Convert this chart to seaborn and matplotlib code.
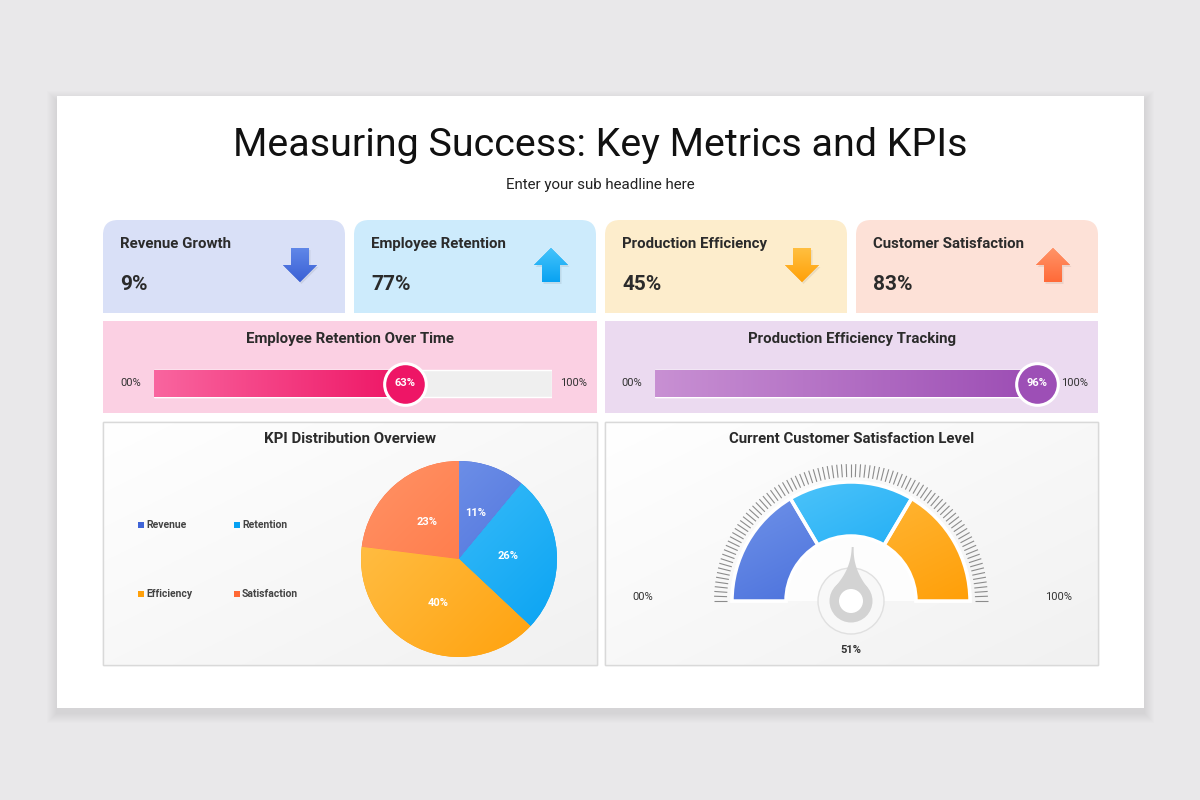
import numpy as np
import matplotlib
matplotlib.use("Agg")
import matplotlib.pyplot as plt
import seaborn as sns
from matplotlib.patches import Rectangle, FancyBboxPatch, Polygon, Wedge, Circle
from matplotlib.collections import LineCollection
from matplotlib.colors import LinearSegmentedColormap

sns.set_theme(style="white")
plt.rcParams['font.family'] = ['Roboto', 'DejaVu Sans']

# ---- data ----
title = "Measuring Success: Key Metrics and KPIs"
subtitle = "Enter your sub headline here"

kpi_names = ["Revenue Growth", "Employee Retention", "Production Efficiency", "Customer Satisfaction"]
kpi_values = [9, 77, 45, 83]
kpi_trend = ["down", "up", "down", "up"]

progress_titles = ["Employee Retention Over Time", "Production Efficiency Tracking"]
progress_values = [63, 96]

pie_title = "KPI Distribution Overview"
pie_labels = ["Revenue", "Retention", "Efficiency", "Satisfaction"]
pie_values = [11, 26, 40, 23]

gauge_title = "Current Customer Satisfaction Level"
gauge_bands = [33, 34, 33]
gauge_value = 51

# ---- colours ----
card_bg = ["#d9e0f7", "#cdebfc", "#fdedcc", "#fde1d7"]
arrow_cols = [("#6087e8", "#3a60d5"), ("#45c4fb", "#08a2f2"),
              ("#ffbf40", "#ffa108"), ("#ff9468", "#ff6a38")]
progress_bg = ["#fbd0e3", "#ebdaf0"]
progress_cols = [("#f9659f", "#ee1565"), ("#c890d3", "#9c4db4")]
progress_dot = ["#ee1566", "#9d4fb6"]
pie_cols = [("#7b9cec", "#3f64d7"), ("#4cc6fb", "#06a1f2"),
            ("#ffc451", "#ffa00a"), ("#ff9366", "#ff6935")]
gauge_cols = [("#7396ea", "#3a61d6"), ("#56c8fb", "#09a2f2"), ("#ffc24e", "#ff9f08")]
text_dark = "#2b2b2b"


def grad_fill(ax, patch, c1, c2, extent, mode="h"):
    cmap = LinearSegmentedColormap.from_list("g", [c1, c2])
    n = 200
    if mode == "h":
        arr = np.tile(np.linspace(0, 1, n), (2, 1))
    elif mode == "v":
        arr = np.tile(np.linspace(0, 1, n)[:, None], (1, 2))
    else:
        xx, yy = np.meshgrid(np.linspace(0, 1, n), np.linspace(0, 1, n))
        arr = (xx + yy) / 2
    im = ax.imshow(arr, cmap=cmap, extent=extent, origin="lower", aspect="auto",
                   interpolation="bilinear", zorder=patch.get_zorder() + 0.01)
    im.set_clip_path(patch)
    return im


fig = plt.figure(figsize=(12, 8), dpi=100)
fig.patch.set_facecolor("#e9e8ea")

# background axes in pixel coordinates (y downward)
bg = fig.add_axes([0, 0, 1, 1])
bg.axis("off")

# white slide with a soft shadow
for k in range(1, 11):
    bg.add_patch(Rectangle((57 - k, 96 - k + 5), 1087 + 2 * k, 612 + 2 * k,
                           color="black", alpha=0.007, lw=0, zorder=0))
bg.add_patch(Rectangle((57, 96), 1087, 612, color="white", lw=0, zorder=1))

bg.text(600, 145, title, ha="center", va="center", fontsize=28.4, color="#111111", zorder=5)
bg.text(600, 185, subtitle, ha="center", va="center", fontsize=10.9, color="#222222", zorder=5)

# KPI cards
card_x = [103, 354, 605, 856]
for i, name in enumerate(kpi_names):
    x0 = card_x[i]
    bg.add_patch(FancyBboxPatch((x0, 220), 242, 93, boxstyle="round,pad=0,rounding_size=15",
                                fc=card_bg[i], ec="none", zorder=2))
    bg.add_patch(Rectangle((x0, 290), 242, 23, fc=card_bg[i], ec="none", zorder=2))
    bg.text(x0 + 17, 244, name, ha="left", va="center", fontsize=10.8,
            fontweight="bold", color=text_dark, zorder=5)
    bg.text(x0 + 17, 284, f"{kpi_values[i]}%", ha="left", va="center", fontsize=15,
            fontweight="bold", color=text_dark, zorder=5)
    cx = x0 + 197
    if kpi_trend[i] == "down":
        pts = [(cx - 9, 248), (cx + 9, 248), (cx + 9, 265), (cx + 17, 265),
               (cx, 282), (cx - 17, 265), (cx - 9, 265)]
    else:
        pts = [(cx - 9, 282), (cx + 9, 282), (cx + 9, 265), (cx + 17, 265),
               (cx, 248), (cx - 17, 265), (cx - 9, 265)]
    shadow = Polygon([(px + 1.5, py + 2) for px, py in pts], closed=True,
                     fc="black", alpha=0.07, ec="none", zorder=3)
    bg.add_patch(shadow)
    arrow = Polygon(pts, closed=True, fc=arrow_cols[i][1], ec="none", zorder=3.5)
    bg.add_patch(arrow)
    grad_fill(bg, arrow, arrow_cols[i][0], arrow_cols[i][1], (cx - 18, cx + 18, 248, 282), "v")

# progress panels
panel_x = [103, 605]
panel_w = [494, 493]
bar_x = [154, 655]
for i, t in enumerate(progress_titles):
    x0 = panel_x[i]
    bg.add_patch(Rectangle((x0, 321), panel_w[i], 92, fc=progress_bg[i], ec="none", zorder=2))
    bg.text(x0 + panel_w[i] / 2, 339, t, ha="center", va="center", fontsize=10.8,
            fontweight="bold", color=text_dark, zorder=5)
    bg.text(bar_x[i] - 23, 383, "00%", ha="center", va="center", fontsize=8, color="#333333", zorder=5)
    bg.text(bar_x[i] + 420, 383, "100%", ha="center", va="center", fontsize=8, color="#333333", zorder=5)

    ax = fig.add_axes([bar_x[i] / 1200, (800 - 412) / 800, 398 / 1200, 57 / 800])
    ax.patch.set_alpha(0)
    sns.barplot(x=[100], y=[t], orient="h", color="#efefef", saturation=1, width=0.8, ax=ax)
    sns.barplot(x=[progress_values[i]], y=[t], orient="h", color=progress_cols[i][1],
                saturation=1, width=0.8, ax=ax)
    bar = ax.patches[-1]
    grad_fill(ax, bar, progress_cols[i][0], progress_cols[i][1],
              (0, progress_values[i], -0.4, 0.4), "h")
    ax.scatter([progress_values[i]], [0], s=900, color=progress_dot[i], edgecolors="white",
               linewidths=2.2, zorder=6, clip_on=False)
    ax.text(progress_values[i], 0, f"{progress_values[i]}%", ha="center", va="center",
            fontsize=8, fontweight="bold", color="white", zorder=7)
    ax.set_xlim(0, 100)
    ax.set_ylim(0.844, -0.844)
    ax.axis("off")

# bottom panels
for i, t in enumerate([pie_title, gauge_title]):
    x0 = panel_x[i]
    panel = Rectangle((x0, 422), panel_w[i], 243, fc="#f7f7f7", ec="#d9d9d9", lw=1, zorder=2)
    bg.add_patch(panel)
    grad_fill(bg, panel, "#ffffff", "#f1f1f1", (x0, x0 + panel_w[i], 422, 665), "d")
    bg.add_patch(Rectangle((x0, 422), panel_w[i], 243, fc="none", ec="#d9d9d9", lw=1, zorder=3))
    bg.text(x0 + panel_w[i] / 2, 439, t, ha="center", va="center", fontsize=10.8,
            fontweight="bold", color=text_dark, zorder=5)

# pie legend
legend_pos = [(138, 525), (234, 525), (138, 594), (234, 594)]
for (lx, ly), lab, cols in zip(legend_pos, pie_labels, pie_cols):
    bg.add_patch(Rectangle((lx, ly - 3), 6, 6, fc=cols[1], ec="none", zorder=5))
    bg.text(lx + 8, ly, lab, ha="left", va="center", fontsize=7.5, fontweight="bold",
            color="#444444", zorder=5)

bg.set_xlim(0, 1200)
bg.set_ylim(800, 0)

# pie chart
pax = fig.add_axes([339 / 1200, (800 - 679) / 800, 240 / 1200, 240 / 800])
R = 98 / 96
wedges, texts, autotexts = pax.pie(
    pie_values, colors=[c[1] for c in pie_cols], startangle=90, counterclock=False,
    radius=R, autopct=lambda p: f"{p:.0f}%", pctdistance=0.5,
    textprops=dict(color="white", fontsize=8, fontweight="bold"),
    wedgeprops=dict(edgecolor="none"))
for w, cols in zip(wedges, pie_cols):
    grad_fill(pax, w, cols[0], cols[1], (-R, R, R, -R), "d")
for at in autotexts:
    at.set_zorder(10)
pax.set_xlim(-1.25, 1.25)
pax.set_ylim(-1.25, 1.25)
pax.set_aspect("equal")
pax.axis("off")

# gauge
gax = fig.add_axes([606 / 1200, (800 - 664) / 800, 490 / 1200, 209 / 800])
gax.patch.set_alpha(0)
# soft white inner half-disc
for k in range(6, 0, -1):
    gax.add_patch(Wedge((0, 0), 65 + k, 0, 180, fc="black", alpha=0.006, ec="none", zorder=1))
gax.add_patch(Wedge((0, 0), 64, 0, 180, fc="#fdfdfd", ec="none", zorder=1.5))
start = 0
for v, cols in zip(gauge_bands, gauge_cols):
    th2 = 180 - start * 1.8
    th1 = 180 - (start + v) * 1.8
    w = Wedge((0, 0), 119, th1, th2, width=54, fc=cols[1], ec="white", lw=2.5, zorder=2)
    gax.add_patch(w)
    grad_fill(gax, w, cols[0], cols[1], (-119, 119, 119, 0), "d")
    gax.add_patch(Wedge((0, 0), 119, th1, th2, width=54, fc="none", ec="white", lw=2.5, zorder=3))
    start += v

ang = np.deg2rad(np.arange(0, 181, 2))
segs = [[(124 * np.cos(a), 124 * np.sin(a)), (137 * np.cos(a), 137 * np.sin(a))] for a in ang]
gax.add_collection(LineCollection(segs, colors="#8c8c8c", linewidths=0.8, zorder=2))

gax.add_patch(Circle((0, 0), 33, fc="#f8f8f8", ec="#e0e0e0", lw=1, zorder=4))
theta = np.deg2rad(180 - gauge_value * 1.8)
u = np.array([np.cos(theta), np.sin(theta)])
v = np.array([-np.sin(theta), np.cos(theta)])
L = 54
ts = np.linspace(0, 1, 30)
dists = L - ts * (L - 14)
hw = 1 + 15 * ts ** 2.2
left = [d * u + h * v for d, h in zip(dists, hw)]
right = [d * u - h * v for d, h in zip(dists, hw)]
gax.add_patch(Polygon(left + right[::-1], closed=True, fc="#d3d3d3", ec="none", zorder=5))
gax.add_patch(Circle((0, 0), 21.5, fc="#d3d3d3", ec="none", zorder=5))
gax.add_patch(Circle((0, 0), 12, fc="white", ec="none", zorder=6))

gax.text(-208, 4, "00%", ha="center", va="center", fontsize=8, color="#333333")
gax.text(208, 4, "100%", ha="center", va="center", fontsize=8, color="#333333")
gax.text(0, -49, f"{gauge_value}%", ha="center", va="center", fontsize=8,
         fontweight="bold", color="#333333")
gax.set_xlim(-245, 245)
gax.set_ylim(-63, 146)
gax.axis("off")

fig.savefig("out.png", dpi=100, facecolor=fig.get_facecolor())
